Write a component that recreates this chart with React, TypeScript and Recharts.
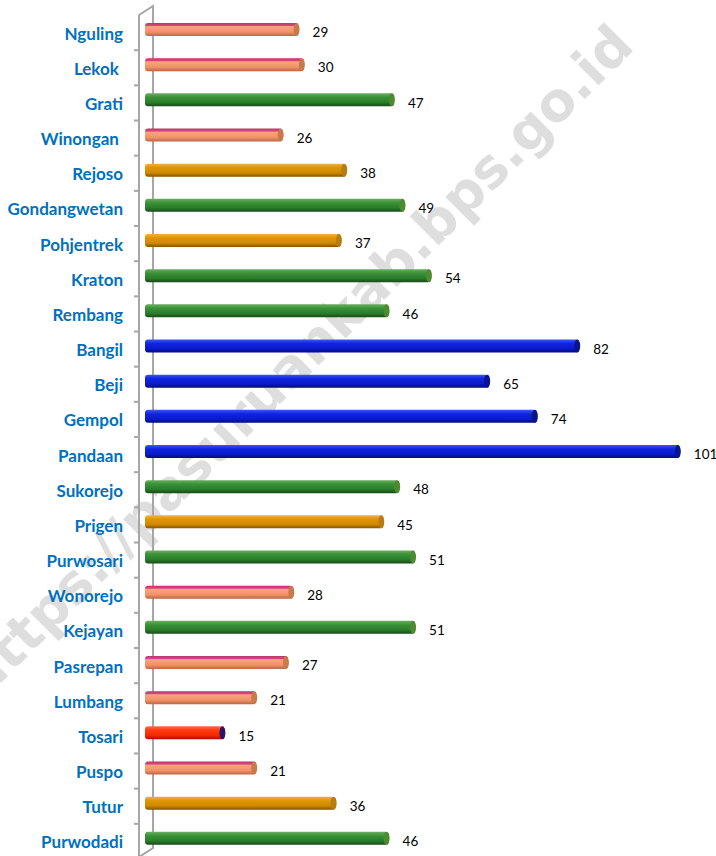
import { BarChart, Bar, XAxis, YAxis, LabelList, usePlotArea } from 'recharts';

const categories = [
  'Nguling', 'Lekok ', 'Grati', 'Winongan ', 'Rejoso', 'Gondangwetan', 'Pohjentrek', 'Kraton',
  'Rembang', 'Bangil', 'Beji', 'Gempol', 'Pandaan', 'Sukorejo', 'Prigen', 'Purwosari',
  'Wonorejo', 'Kejayan', 'Pasrepan', 'Lumbang', 'Tosari', 'Puspo', 'Tutur', 'Purwodadi',
];
const values = [29, 30, 47, 26, 38, 49, 37, 54, 46, 82, 65, 74, 101, 48, 45, 51, 28, 51, 27, 21, 15, 21, 36, 46];
const tones = [
  'salmon', 'salmon', 'green', 'salmon', 'orange', 'green', 'orange', 'green',
  'green', 'blue', 'blue', 'blue', 'blue', 'green', 'orange', 'green',
  'salmon', 'green', 'salmon', 'salmon', 'red', 'salmon', 'orange', 'green',
];

// gradient stops per tone: top edge -> body -> bottom edge, plus end cap colour
const palette: Record<string, { stops: [number, string][]; cap: string }> = {
  salmon: { stops: [[0, '#C2306E'], [0.2, '#D9487C'], [0.28, '#F8A67F'], [0.7, '#F29066'], [1, '#B86848']], cap: '#C97A4A' },
  green: { stops: [[0, '#6AAE5E'], [0.3, '#3A9238'], [0.7, '#2A7C2A'], [1, '#184A18']], cap: '#4E8A30' },
  orange: { stops: [[0, '#EDB23C'], [0.3, '#DE9608'], [0.7, '#D08A00'], [1, '#845400']], cap: '#B67E10' },
  blue: { stops: [[0, '#3A58F0'], [0.3, '#1025E0'], [0.7, '#0A1ACB'], [1, '#040C78']], cap: '#0A148C' },
  red: { stops: [[0, '#FF6A48'], [0.3, '#FF3A10'], [0.7, '#F52800'], [1, '#A81000']], cap: '#2C1466' },
};

const rows = categories.map((name, i) => ({ name, value: values[i], tone: tones[i] }));

const BarShape = (props: any) => {
  const { x, y, width, height, payload } = props;
  if (!width || width <= 0) return null;
  const p = palette[payload.tone];
  return (
    <g>
      <rect x={x} y={y} width={width} height={height} rx={3} ry={3} fill={`url(#g-${payload.tone})`} />
      <ellipse cx={x + width - 2} cy={y + height / 2} rx={3} ry={height / 2} fill={p.cap} />
    </g>
  );
};

const CategoryTick = (props: any) => {
  const { x, y, payload } = props;
  return (
    <text
      x={x}
      y={y}
      dy={10}
      textAnchor="end"
      fill="#0070C0"
      style={{ fontFamily: 'Lato, sans-serif', fontWeight: 700, fontSize: 17, whiteSpace: 'pre' }}
    >
      {payload.value}
    </text>
  );
};

// 3D-style wall on the left of the plot
function Wall() {
  const area = usePlotArea();
  if (!area) return null;
  const { x, y, height } = area;
  const front = x - 6;
  const back = x + 8;
  const step = height / categories.length;
  const ticks = categories.slice(1).map((_, i) => y + (i + 1) * step + 3);
  return (
    <g stroke="#A6A6A6" strokeWidth={2} fill="none">
      <polyline points={`${front},${y + 3} ${back},${y - 6} ${back},${y + height - 8} ${front},${y + height + 1}`} />
      <line x1={front} y1={y + 3} x2={front} y2={y + height + 3} />
      {ticks.map((t) => (
        <line key={t} x1={front - 5} y1={t} x2={front} y2={t} />
      ))}
    </g>
  );
}

export default function App() {
  return (
    <div style={{ position: 'absolute', left: 0, top: 0, width: 716, height: 856, background: '#fff' }}>
      <svg width={716} height={856} style={{ position: 'absolute', left: 0, top: 0 }}>
        <text
          x={636}
          y={48}
          textAnchor="end"
          transform="rotate(-45 636 48)"
          fill="#DEDEDE"
          style={{ fontFamily: 'DejaVu Sans, sans-serif', fontWeight: 700, fontSize: 54 }}
        >
          https://pasuruankab.bps.go.id
        </text>
      </svg>
      <div style={{ position: 'absolute', left: 0, top: 0 }}>
        <BarChart
          width={716}
          height={856}
          data={rows}
          layout="vertical"
          margin={{ top: 12, right: 15, left: 0, bottom: 0 }}
          barSize={13}
        >
          <defs>
            {Object.entries(palette).map(([key, p]) => (
              <linearGradient key={key} id={`g-${key}`} x1="0" y1="0" x2="0" y2="1">
                {p.stops.map(([o, c]) => (
                  <stop key={o} offset={o} stopColor={c} />
                ))}
              </linearGradient>
            ))}
          </defs>
          <XAxis type="number" domain={[0, 105]} hide />
          <YAxis
            type="category"
            dataKey="name"
            width={145}
            axisLine={false}
            tickLine={false}
            tickSize={0}
            tickMargin={22}
            interval={0}
            tick={<CategoryTick />}
          />
          <Wall />
          <Bar dataKey="value" shape={<BarShape />} isAnimationActive={false}>
            <LabelList
              dataKey="value"
              position="right"
              offset={14}
              dy={3}
              fill="#000"
              style={{ fontFamily: 'Lato, sans-serif', fontSize: 13.5 }}
            />
          </Bar>
        </BarChart>
      </div>
    </div>
  );
}
